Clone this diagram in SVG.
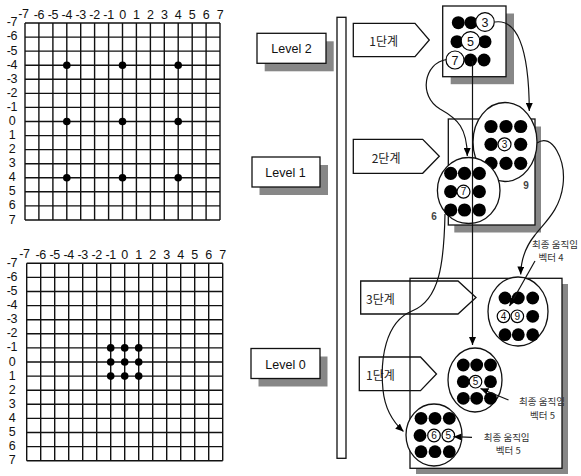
<svg xmlns="http://www.w3.org/2000/svg" width="581" height="476" viewBox="0 0 581 476">
<defs>
<style>
.grid{fill:none;stroke:#111;stroke-width:1.4}
.num{font-family:"Liberation Sans",Arial,sans-serif;font-size:12.5px;fill:#111;text-anchor:middle;letter-spacing:-0.3px}
.box{fill:#fff;stroke:#111;stroke-width:1.3}
.sh{fill:#878787}
.pent{fill:none;stroke:#111;stroke-width:1.3}
.lv{font-family:"Liberation Sans",Arial,sans-serif;font-size:12.5px;fill:#111;text-anchor:middle}
.kr{font-family:"Noto Sans CJK KR",sans-serif;font-size:12px;fill:#222}
.kl{font-family:"Noto Sans CJK KR",sans-serif;font-size:9.5px;fill:#333;text-anchor:middle}
.ell{fill:#fff;stroke:#111;stroke-width:1.3}
.d{fill:#000}
.wc{fill:#fff;stroke:#000;stroke-width:1.2}
.cn{font-family:"Liberation Sans",Arial,sans-serif;font-size:10px;fill:#111;text-anchor:middle}
.cb{font-family:"Liberation Sans",Arial,sans-serif;font-size:12.5px;fill:#111;text-anchor:middle}
.sm{font-family:"Liberation Sans",Arial,sans-serif;font-size:10px;font-weight:bold;fill:#444;text-anchor:middle}
.con{fill:none;stroke:#111;stroke-width:1.2}
</style>
<marker id="ah" markerUnits="userSpaceOnUse" markerWidth="8" markerHeight="7" refX="8" refY="3.5" orient="auto">
<path d="M0,0 L8,3.5 L0,7 z" fill="#000"/>
</marker>
</defs>
<rect width="581" height="476" fill="#fff"/>

<g id="grid-top">
<path class="grid" d="M25,23V220M38.9,23V220M52.9,23V220M66.8,23V220M80.7,23V220M94.6,23V220M108.6,23V220M122.5,23V220M136.4,23V220M150.4,23V220M164.3,23V220M178.2,23V220M192.2,23V220M206.1,23V220M220,23V220
M25,23H220M25,37.1H220M25,51.1H220M25,65.2H220M25,79.3H220M25,93.4H220M25,107.4H220M25,121.5H220M25,135.6H220M25,149.6H220M25,163.7H220M25,177.8H220M25,191.8H220M25,205.9H220M25,220H220"/>
<g class="num">
<text x="23.5" y="17.5">-7</text><text x="38.9" y="18.5">-6</text><text x="52.9" y="18.5">-5</text><text x="66.8" y="18.5">-4</text><text x="80.7" y="18.5">-3</text><text x="94.6" y="18.5">-2</text><text x="108.6" y="18.5">-1</text><text x="122.5" y="18.5">0</text><text x="136.4" y="18.5">1</text><text x="150.4" y="18.5">2</text><text x="164.3" y="18.5">3</text><text x="178.2" y="18.5">4</text><text x="192.2" y="18.5">5</text><text x="206.1" y="18.5">6</text><text x="220" y="18.5">7</text>
<text x="12" y="26">-7</text><text x="12" y="40.4">-6</text><text x="12" y="54.5">-5</text><text x="12" y="68.6">-4</text><text x="12" y="82.7">-3</text><text x="12" y="96.8">-2</text><text x="12" y="110.9">-1</text><text x="12" y="125">0</text><text x="12" y="139.1">1</text><text x="12" y="153.1">2</text><text x="12" y="167.2">3</text><text x="12" y="181.3">4</text><text x="12" y="195.3">5</text><text x="12" y="209.4">6</text><text x="12" y="223.5">7</text>
</g>
<g class="d">
<circle cx="66.8" cy="65.2" r="3.8"/><circle cx="122.5" cy="65.2" r="3.8"/><circle cx="178.2" cy="65.2" r="3.8"/>
<circle cx="66.8" cy="121.5" r="3.8"/><circle cx="122.5" cy="121.5" r="3.8"/><circle cx="178.2" cy="121.5" r="3.8"/>
<circle cx="66.8" cy="177.8" r="3.8"/><circle cx="122.5" cy="177.8" r="3.8"/><circle cx="178.2" cy="177.8" r="3.8"/>
</g>
</g>

<g id="grid-bottom">
<path class="grid" d="M26.7,263.3V460.7M40.7,263.3V460.7M54.7,263.3V460.7M68.7,263.3V460.7M82.7,263.3V460.7M96.7,263.3V460.7M110.7,263.3V460.7M124.7,263.3V460.7M138.7,263.3V460.7M152.7,263.3V460.7M166.7,263.3V460.7M180.7,263.3V460.7M194.7,263.3V460.7M208.7,263.3V460.7M222.7,263.3V460.7
M26.7,263.3H222.7M26.7,277.4H222.7M26.7,291.5H222.7M26.7,305.6H222.7M26.7,319.7H222.7M26.7,333.8H222.7M26.7,347.9H222.7M26.7,362H222.7M26.7,376.1H222.7M26.7,390.2H222.7M26.7,404.3H222.7M26.7,418.4H222.7M26.7,432.5H222.7M26.7,446.6H222.7M26.7,460.7H222.7"/>
<g class="num">
<text x="24.5" y="257.5">-7</text><text x="40.7" y="258.5">-6</text><text x="54.7" y="258.5">-5</text><text x="68.7" y="258.5">-4</text><text x="82.7" y="258.5">-3</text><text x="96.7" y="258.5">-2</text><text x="110.7" y="258.5">-1</text><text x="124.7" y="258.5">0</text><text x="138.7" y="258.5">1</text><text x="152.7" y="258.5">2</text><text x="166.7" y="258.5">3</text><text x="180.7" y="258.5">4</text><text x="194.7" y="258.5">5</text><text x="208.7" y="258.5">6</text><text x="222.7" y="258.5">7</text>
<text x="12" y="266.8">-7</text><text x="12" y="280.9">-6</text><text x="12" y="295">-5</text><text x="12" y="309.1">-4</text><text x="12" y="323.2">-3</text><text x="12" y="337.3">-2</text><text x="12" y="351.4">-1</text><text x="12" y="365.5">0</text><text x="12" y="379.6">1</text><text x="12" y="393.7">2</text><text x="12" y="407.8">3</text><text x="12" y="421.9">4</text><text x="12" y="436">5</text><text x="12" y="450.1">6</text><text x="12" y="464.2">7</text>
</g>
<g class="d">
<circle cx="110.7" cy="347.9" r="3.8"/><circle cx="124.7" cy="347.9" r="3.8"/><circle cx="138.7" cy="347.9" r="3.8"/>
<circle cx="110.7" cy="362" r="3.8"/><circle cx="124.7" cy="362" r="3.8"/><circle cx="138.7" cy="362" r="3.8"/>
<circle cx="110.7" cy="376.1" r="3.8"/><circle cx="124.7" cy="376.1" r="3.8"/><circle cx="138.7" cy="376.1" r="3.8"/>
</g>
</g>

<g id="level2-label">
<rect class="sh" x="264.7" y="41.3" width="69" height="30"/>
<rect class="box" x="257" y="33.3" width="69" height="30"/>
<text class="lv" x="291.5" y="53.3">Level 2</text>
</g>
<g id="level1-label">
<rect class="sh" x="259.5" y="165" width="68.5" height="30"/>
<rect class="box" x="252" y="157" width="68" height="30"/>
<text class="lv" x="285.5" y="177">Level 1</text>
</g>
<g id="level0-label">
<rect class="sh" x="258.5" y="356.5" width="69" height="30"/>
<rect class="box" x="251" y="348.5" width="69" height="30"/>
<text class="lv" x="285.5" y="369">Level 0</text>
</g>

<g id="divider">
<rect class="box" x="337" y="17.3" width="9" height="441"/>
</g>

<g id="step1-top">
<path class="pent" d="M353.3,23.3H415L429.3,40L415,56.7H353.3z"/>
<text class="kr" x="369.3" y="46">1단계</text>
</g>
<g id="step2">
<path class="pent" d="M353.3,139.3H422.7L439.3,156.3L422.7,173.3H353.3z"/>
<text class="kr" x="371.7" y="162.5">2단계</text>
</g>

<g id="level2-block">
<rect class="sh" x="450.7" y="13.5" width="63.3" height="70.7"/>
<rect class="box" x="442.7" y="6" width="63.3" height="70.7"/>
<g class="d">
<circle cx="458.3" cy="22.7" r="6.5"/><circle cx="471" cy="22.7" r="6.5"/>
<circle cx="457" cy="41.7" r="6.5"/><circle cx="485" cy="41.7" r="6.5"/>
<circle cx="470.5" cy="60" r="6.5"/><circle cx="484" cy="60" r="6.5"/>
</g>
<circle class="wc" cx="485" cy="22" r="9.3"/><text class="cb" x="485" y="26.5">3</text>
<circle class="wc" cx="470.5" cy="41" r="9.3"/><text class="cb" x="470.5" y="45.5">5</text>
<circle class="wc" cx="455" cy="60" r="9"/><text class="cb" x="455" y="64.5">7</text>
</g>

<g id="level1-block">
<rect class="sh" x="454.3" y="126.5" width="86.7" height="106"/>
<rect class="box" x="448.3" y="119" width="86.7" height="106"/>
<ellipse class="ell" cx="505" cy="142" rx="32" ry="39.5"/>
<g class="d">
<circle cx="491" cy="126.5" r="6.6"/><circle cx="506" cy="126.5" r="6.6"/><circle cx="520.7" cy="126.5" r="6.6"/>
<circle cx="491" cy="144.3" r="6.6"/><circle cx="520.7" cy="144.3" r="6.6"/>
<circle cx="491" cy="163.3" r="6.6"/><circle cx="506" cy="163.3" r="6.6"/><circle cx="520.7" cy="163.3" r="6.6"/>
</g>
<circle class="wc" cx="504.5" cy="144.3" r="6.5"/><text class="cn" x="504.5" y="148">3</text>
<ellipse class="ell" cx="468.7" cy="190.5" rx="31.3" ry="33"/>
<g class="d">
<circle cx="450.7" cy="173.3" r="6.6"/><circle cx="464.5" cy="173.3" r="6.6"/><circle cx="479.3" cy="173.3" r="6.6"/>
<circle cx="450.7" cy="191.7" r="6.6"/><circle cx="479.3" cy="191.7" r="6.6"/>
<circle cx="450.7" cy="210" r="6.6"/><circle cx="464.5" cy="210" r="6.6"/><circle cx="479.3" cy="210" r="6.6"/>
</g>
<circle class="wc" cx="463.5" cy="191.7" r="6.5"/><text class="cn" x="463.5" y="195.4">7</text>
<text class="sm" x="526" y="188.5">9</text>
<text class="sm" x="434" y="220">6</text>
</g>

<g id="level0-block">
<rect class="sh" x="416" y="284" width="152" height="190"/>
<rect class="box" x="410" y="278.3" width="152" height="190"/>
</g>

<g id="step3">
<path class="pent" d="M360.7,281H458L476,297.5L458,314H360.7z"/>
<text class="kr" x="366" y="304">3단계</text>
</g>
<g id="step1-bottom">
<path class="pent" d="M359.3,357H420.5L436.5,374L420.5,390.7H359.3z"/>
<text class="kr" x="366" y="380">1단계</text>
</g>

<g id="level0-circle-49">
<ellipse class="ell" cx="518" cy="311.5" rx="30" ry="34.5"/>
<g class="d">
<circle cx="505" cy="298" r="6.4"/><circle cx="518.3" cy="298" r="6.4"/><circle cx="532.7" cy="298" r="6.4"/>
<circle cx="532.7" cy="316.3" r="6.4"/>
<circle cx="505" cy="334.7" r="6.4"/><circle cx="518.3" cy="334.7" r="6.4"/><circle cx="532.7" cy="334.7" r="6.4"/>
</g>
<circle class="wc" cx="503.5" cy="316.3" r="6.3"/><text class="cn" x="503.5" y="320">4</text>
<circle class="wc" cx="517.3" cy="316.3" r="6.3"/><text class="cn" x="517.3" y="320">9</text>
</g>
<g id="level0-circle-5">
<ellipse class="ell" cx="475" cy="380" rx="27" ry="32"/>
<g class="d">
<circle cx="463.3" cy="365" r="6.4"/><circle cx="476.7" cy="365" r="6.4"/><circle cx="490.5" cy="365" r="6.4"/>
<circle cx="463.3" cy="381.7" r="6.4"/><circle cx="490.5" cy="381.7" r="6.4"/>
<circle cx="463.3" cy="398.3" r="6.4"/><circle cx="476.7" cy="398.3" r="6.4"/><circle cx="490.5" cy="398.3" r="6.4"/>
</g>
<circle class="wc" cx="475.5" cy="381.7" r="6.3"/><text class="cn" x="475.5" y="385.4">5</text>
</g>
<g id="level0-circle-65">
<ellipse class="ell" cx="434" cy="435" rx="28" ry="31"/>
<g class="d">
<circle cx="421" cy="418.3" r="6.4"/><circle cx="435" cy="418.3" r="6.4"/><circle cx="449.3" cy="418.3" r="6.4"/>
<circle cx="420" cy="435.5" r="6.4"/>
<circle cx="421" cy="451.7" r="6.4"/><circle cx="435" cy="451.7" r="6.4"/><circle cx="449.3" cy="451.7" r="6.4"/>
</g>
<circle class="wc" cx="434" cy="435.5" r="6.3"/><text class="cn" x="434" y="439.2">6</text>
<circle class="wc" cx="448.3" cy="435.5" r="6.3"/><text class="cn" x="448.3" y="439.2">5</text>
</g>

<g id="labels">
<text class="kl" x="555" y="247.5">최종 움직임</text>
<text class="kl" x="551" y="260.5">벡터 4</text>
<text class="kl" x="542" y="404.5">최종 움직임</text>
<text class="kl" x="542.5" y="418.5">벡터 5</text>
<text class="kl" x="506.7" y="440.5">최종 움직임</text>
<text class="kl" x="508.3" y="454">벡터 5</text>
</g>

<g id="connectors">
<path class="con" d="M472.5,61V345" marker-end="url(#ah)"/>
<path class="con" d="M495,22C516,19 529,45 529.3,111" marker-end="url(#ah)"/>
<path class="con" d="M446.5,59.5C424,63 418,96 440,109C458,119 467,128 467.3,156" marker-end="url(#ah)"/>
<path class="con" d="M537,143C552,132 566,160 563,185C560,210 545,222 535,235C526,246 521,258 520.7,274.5" marker-end="url(#ah)"/>
<path class="con" d="M445,214C444,262 440,300 412,311C385,322 380,360 383,390C385,410 393,422 403.5,431.5" marker-end="url(#ah)"/>
<path class="con" d="M535,261L509.5,306" marker-end="url(#ah)"/>
<path class="con" d="M508.5,400L480.5,388.5" marker-end="url(#ah)"/>
<path class="con" d="M472,437.3L453.5,436.7" marker-end="url(#ah)"/>
</g>
</svg>
